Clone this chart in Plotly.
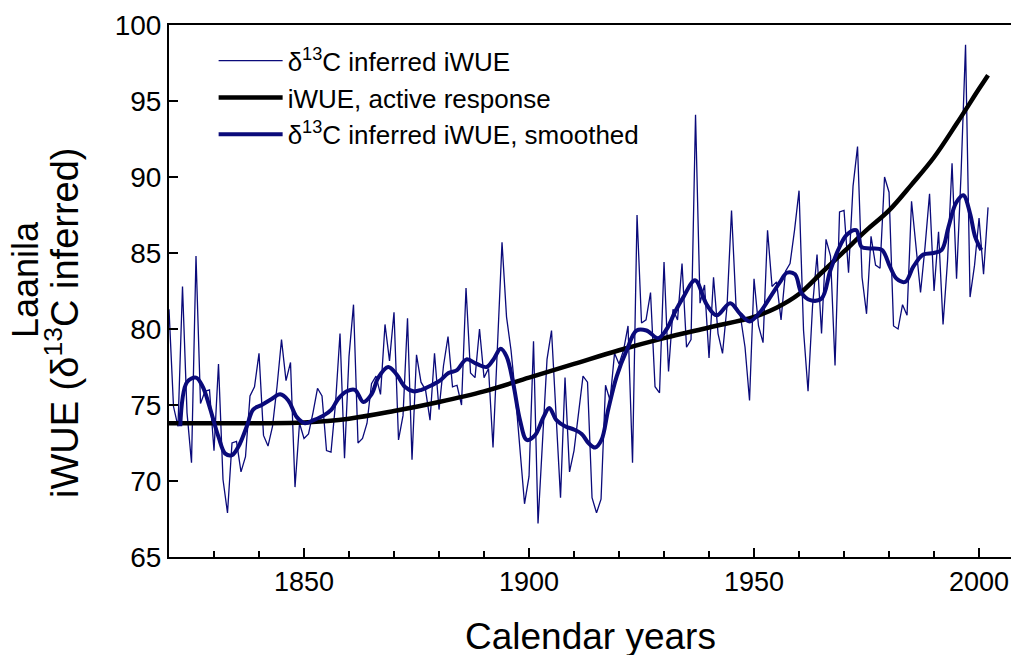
import plotly.graph_objects as go

# Annual delta13C inferred iWUE, 1820-2002
years = list(range(1820, 2003))
iwue_annual = [
    81.3, 74.9, 73.6, 82.8, 74.5, 71.2, 84.8, 75.1, 75.9, 76.0,   # 1820-1829
    72.0, 77.7, 70.1, 67.9, 72.5, 72.6, 70.6, 71.6, 75.6, 76.2,   # 1830-1839
    78.4, 73.0, 72.3, 73.6, 76.2, 79.3, 76.6, 77.8, 69.6, 73.8,   # 1840-1849
    72.8, 73.1, 74.5, 76.1, 75.6, 72.0, 71.9, 75.1, 79.7, 71.5,   # 1850-1859
    78.2, 81.6, 72.5, 72.8, 73.8, 76.4, 76.9, 75.7, 80.3, 77.9,   # 1860-1869
    81.1, 72.7, 74.3, 80.7, 71.4, 78.3, 76.5, 76.0, 74.0, 78.4,   # 1870-1879
    74.7, 77.6, 79.5, 76.2, 76.3, 75.0, 82.7, 77.1, 76.8, 80.0,   # 1880-1889
    76.8, 77.4, 72.2, 79.3, 85.7, 80.8, 78.6, 75.6, 72.0, 68.5,   # 1890-1899
    70.3, 79.2, 67.2, 72.5, 78.0, 79.9, 74.7, 68.9, 76.8, 70.6,   # 1900-1909
    72.0, 74.5, 76.9, 76.5, 68.9, 67.9, 68.8, 76.3, 75.3, 78.4,   # 1910-1919
    77.7, 78.6, 80.2, 71.2, 87.5, 80.4, 80.6, 82.4, 76.2, 75.8,   # 1920-1929
    84.4, 77.2, 81.3, 80.6, 84.3, 78.8, 79.3, 94.1, 81.7, 82.9,   # 1930-1939
    78.1, 83.4, 79.7, 78.4, 81.5, 87.8, 81.5, 80.8, 78.8, 75.3,   # 1940-1949
    83.3, 80.2, 79.1, 86.5, 82.8, 83.1, 80.6, 83.8, 84.3, 86.5,   # 1950-1959
    89.1, 79.9, 75.9, 81.5, 84.9, 79.7, 85.9, 84.8, 77.6, 87.7,   # 1960-1969
    87.8, 83.7, 89.4, 92.0, 83.4, 81.0, 86.1, 84.2, 84.0, 90.0,   # 1970-1979
    89.0, 80.2, 80.0, 81.6, 80.9, 88.4, 85.4, 82.4, 85.4, 88.9,   # 1980-1989
    82.5, 86.4, 80.3, 84.5, 90.9, 83.3, 90.2, 98.7, 82.1, 84.2,   # 1990-1999
    87.3, 83.6, 88.0,                                             # 2000-2002
]

# Smoothed delta13C inferred iWUE
smooth_years = [
    1822.5, 1824, 1826, 1827.5, 1829, 1831, 1832.5, 1834, 1835.5, 1837.3,
    1838.7, 1840.6, 1842.8, 1844.7, 1846.5, 1848.4, 1850.2, 1852.1, 1854.3, 1856.1,
    1857.6, 1859.5, 1861.3, 1863.2, 1865, 1866.5, 1868.7, 1870.6, 1872.4, 1874.3,
    1876.1, 1878.4, 1880.2, 1882.1, 1884, 1886.1, 1888.4, 1890.6, 1892.1, 1893.7,
    1895, 1896.5, 1898, 1899.5, 1901.3, 1903.2, 1904.5, 1906.1, 1908, 1909.9,
    1911.7, 1913.2, 1914.7, 1916.1, 1917.6, 1919.5, 1921.7, 1923.9, 1926.1, 1928.7,
    1930.6, 1932.4, 1934.3, 1936.9, 1939.5, 1941.7, 1944.7, 1946.9, 1949, 1951.3,
    1953.6, 1955.8, 1957.3, 1959.1, 1960.5, 1962.5, 1965, 1966.9, 1968.7, 1970.6,
    1972.7, 1973.9, 1975.8, 1978.4, 1980.2, 1981.7, 1983.6, 1985.4, 1987.6, 1989.9,
    1991.7, 1993.2, 1994.9, 1996.5, 1998, 1999.1, 2000.5,
]
iwue_smooth = [
    73.6, 76.5, 76.8, 76.2, 74.9, 72.9, 71.8, 71.7, 72.3, 73.6,
    74.7, 75.0, 75.4, 75.7, 75.3, 74.2, 73.8, 74.0, 74.3, 74.7,
    75.4, 75.9, 76.0, 75.2, 75.7, 76.8, 77.5, 77.0, 76.2, 75.9,
    76.0, 76.3, 76.6, 77.1, 77.3, 78.0, 77.7, 77.5, 78.0, 78.7,
    78.2, 76.4, 74.0, 72.7, 73.0, 74.2, 74.8, 74.0, 73.6, 73.4,
    73.1, 72.5, 72.2, 72.7, 74.7, 76.9, 78.6, 79.9, 79.9, 79.4,
    80.0, 81.1, 82.1, 83.2, 81.6, 80.9, 81.7, 81.0, 80.5, 81.1,
    82.1, 83.1, 83.7, 83.6, 82.4, 81.9, 82.0, 83.8, 85.2, 86.2,
    86.5, 85.4, 85.3, 85.2, 84.1, 83.3, 83.1, 84.1, 84.9, 85.0,
    85.2, 86.7, 88.3, 88.8, 87.6, 86.1, 85.2,
]

# iWUE, active response
active_years = [1820, 1830, 1840, 1850, 1860, 1870, 1880, 1890, 1900, 1910,
                1920, 1930, 1940, 1950, 1955, 1960, 1965, 1970, 1975, 1980,
                1985, 1990, 1995, 2000, 2002]
iwue_active = [73.8, 73.8, 73.8, 73.85, 74.1, 74.6, 75.2, 75.9, 76.8, 77.7,
               78.6, 79.4, 80.1, 80.8, 81.4, 82.3, 83.7, 85.1, 86.5, 87.8,
               89.5, 91.3, 93.5, 95.8, 96.7]

x_ticks = [1850, 1900, 1950, 2000]
y_ticks = [65, 70, 75, 80, 85, 90, 95, 100]

NAVY = "#0a0a7a"
FONT = "Liberation Sans, Arial, sans-serif"

fig = go.Figure()
fig.add_trace(go.Scatter(
    x=years, y=iwue_annual, mode="lines",
    line=dict(color=NAVY, width=1.3),
    name="δ<sup>13</sup>C inferred iWUE",
))
fig.add_trace(go.Scatter(
    x=active_years, y=iwue_active, mode="lines",
    line=dict(color="black", width=4.5, shape="spline"),
    name="iWUE, active response",
))
fig.add_trace(go.Scatter(
    x=smooth_years, y=iwue_smooth, mode="lines",
    line=dict(color=NAVY, width=4, shape="spline"),
    name="δ<sup>13</sup>C inferred iWUE, smoothed",
))

fig.update_layout(
    width=1011, height=655,
    margin=dict(l=169, r=0, t=25, b=98, autoexpand=False),
    paper_bgcolor="white", plot_bgcolor="white",
    font=dict(family=FONT, color="black"),
    showlegend=True,
    legend=dict(
        x=0.053, y=0.977, xanchor="left", yanchor="top",
        bgcolor="rgba(0,0,0,0)", font=dict(size=26, family=FONT),
        itemwidth=64, tracegroupgap=0,
    ),
    annotations=[
        dict(text="Calendar years", xref="paper", yref="paper",
             x=0.5, y=-0.150, xanchor="center", yanchor="middle",
             showarrow=False, font=dict(size=37, family=FONT)),
        dict(text="Laanila", xref="paper", yref="paper",
             x=-0.171, y=(557 - 280) / 532, xanchor="center", yanchor="middle",
             textangle=-90, showarrow=False, font=dict(size=36, family=FONT)),
        dict(text="iWUE (δ<sup>13</sup>C inferred)", xref="paper", yref="paper",
             x=-0.127, y=(557 - 323) / 532, xanchor="center", yanchor="middle",
             textangle=-90, showarrow=False, font=dict(size=38, family=FONT)),
    ],
)
fig.update_xaxes(
    range=[1820, 2007.1], automargin=False,
    tickvals=x_ticks, ticktext=[str(v) for v in x_ticks],
    ticks="inside", ticklen=9, tickwidth=2, tickcolor="black",
    minor=dict(dtick=10, tick0=1820, ticks="inside", ticklen=6, tickwidth=1.5, tickcolor="black"),
    showline=True, linewidth=2, linecolor="black", mirror=True,
    showgrid=False, zeroline=False,
    tickfont=dict(size=27, family=FONT),
)
fig.update_yaxes(
    range=[65, 100], automargin=False,
    tickvals=y_ticks, ticktext=[str(v) for v in y_ticks],
    ticks="inside", ticklen=9, tickwidth=2, tickcolor="black",
    showline=True, linewidth=2, linecolor="black",
    showgrid=False, zeroline=False,
    tickfont=dict(size=28, family=FONT),
)

fig.write_html("out.html", config={"displayModeBar": False},
               post_script="document.body.style.margin='0';")
